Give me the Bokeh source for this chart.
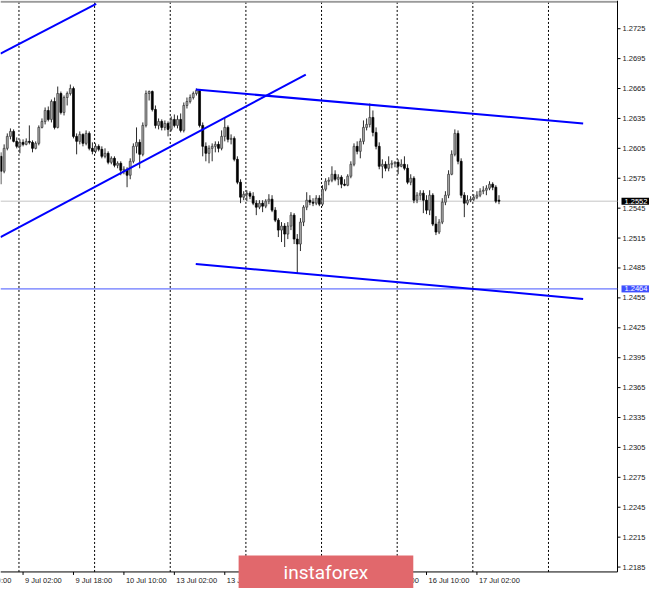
from bokeh.plotting import figure
from bokeh.models import Range1d, Label, ColumnDataSource
from bokeh.embed import file_html
from bokeh.resources import INLINE
from bokeh.core.properties import value

# ---------------- data (GBPUSD H1, bar 0 = 8 Jul 19:00) ----------------
opens = [1.2597, 1.2582, 1.2605, 1.2617, 1.2622, 1.2612, 1.2607, 1.2611, 1.2609, 1.2612,
         1.2611, 1.2605, 1.2610, 1.2626, 1.2632, 1.2643, 1.2634, 1.2652, 1.2626, 1.2660,
         1.2641, 1.2656, 1.2660, 1.2665, 1.2617, 1.2612, 1.2619, 1.2610, 1.2620, 1.2605,
         1.2602, 1.2607, 1.2604, 1.2597, 1.2600, 1.2591, 1.2595, 1.2588, 1.2590, 1.2583,
         1.2584, 1.2578, 1.2592, 1.2607, 1.2611, 1.2599, 1.2628, 1.2660, 1.2662, 1.2644,
         1.2628, 1.2632, 1.2626, 1.2630, 1.2624, 1.2634, 1.2628, 1.2634, 1.2623, 1.2648,
         1.2652, 1.2656, 1.2660, 1.2663, 1.2628, 1.2607, 1.2600, 1.2605, 1.2607, 1.2609,
         1.2605, 1.2617, 1.2626, 1.2614, 1.2615, 1.2594, 1.2571, 1.2556, 1.2559, 1.2560,
         1.2557, 1.2550, 1.2546, 1.2550, 1.2547, 1.2552, 1.2554, 1.2543, 1.2533, 1.2523,
         1.2527, 1.2519, 1.2527, 1.2538, 1.2514, 1.2509, 1.2531, 1.2546, 1.2553, 1.2551,
         1.2550, 1.2555, 1.2549, 1.2564, 1.2572, 1.2573, 1.2579, 1.2574, 1.2576, 1.2569,
         1.2568, 1.2577, 1.2589, 1.2607, 1.2602, 1.2612, 1.2626, 1.2629, 1.2636, 1.2621,
         1.2607, 1.2587, 1.2589, 1.2585, 1.2589, 1.2590, 1.2591, 1.2587, 1.2589, 1.2585,
         1.2571, 1.2575, 1.2553, 1.2558, 1.2560, 1.2553, 1.2543, 1.2558, 1.2529, 1.2521,
         1.2531, 1.2551, 1.2558, 1.2579, 1.2599, 1.2620, 1.2592, 1.2558, 1.2550, 1.2553,
         1.2554, 1.2556, 1.2558, 1.2562, 1.2563, 1.2565, 1.2569, 1.2566, 1.2553]
highs = [1.2601, 1.2609, 1.2620, 1.2625, 1.2624, 1.2616, 1.2614, 1.2614, 1.2615, 1.2628,
         1.2613, 1.2612, 1.2628, 1.2635, 1.2646, 1.2647, 1.2654, 1.2656, 1.2667, 1.2662,
         1.2658, 1.2662, 1.2669, 1.2667, 1.2620, 1.2622, 1.2620, 1.2623, 1.2622, 1.2611,
         1.2610, 1.2609, 1.2607, 1.2605, 1.2602, 1.2597, 1.2597, 1.2592, 1.2592, 1.2587,
         1.2586, 1.2595, 1.2610, 1.2626, 1.2614, 1.2631, 1.2663, 1.2663, 1.2663, 1.2648,
         1.2635, 1.2634, 1.2633, 1.2632, 1.2637, 1.2639, 1.2638, 1.2640, 1.2651, 1.2656,
         1.2659, 1.2662, 1.2665, 1.2664, 1.2631, 1.2611, 1.2608, 1.2610, 1.2612, 1.2612,
         1.2623, 1.2636, 1.2628, 1.2619, 1.2617, 1.2597, 1.2574, 1.2562, 1.2563, 1.2562,
         1.2561, 1.2553, 1.2553, 1.2553, 1.2554, 1.2559, 1.2558, 1.2546, 1.2535, 1.2531,
         1.2530, 1.2531, 1.2541, 1.2540, 1.2519, 1.2535, 1.2548, 1.2561, 1.2558, 1.2555,
         1.2558, 1.2558, 1.2568, 1.2575, 1.2576, 1.2587, 1.2583, 1.2579, 1.2578, 1.2574,
         1.2579, 1.2592, 1.2610, 1.2612, 1.2615, 1.2633, 1.2635, 1.2650, 1.2643, 1.2626,
         1.2611, 1.2594, 1.2592, 1.2597, 1.2593, 1.2592, 1.2594, 1.2594, 1.2597, 1.2589,
         1.2579, 1.2577, 1.2561, 1.2563, 1.2563, 1.2558, 1.2563, 1.2560, 1.2537, 1.2534,
         1.2555, 1.2562, 1.2583, 1.2603, 1.2624, 1.2623, 1.2595, 1.2561, 1.2558, 1.2557,
         1.2559, 1.2562, 1.2565, 1.2567, 1.2568, 1.2572, 1.2571, 1.2568, 1.2558]
lows = [1.2569, 1.2580, 1.2603, 1.2614, 1.2611, 1.2605, 1.2600, 1.2607, 1.2608, 1.2609,
        1.2601, 1.2604, 1.2608, 1.2625, 1.2629, 1.2632, 1.2631, 1.2624, 1.2625, 1.2639,
        1.2638, 1.2648, 1.2658, 1.2615, 1.2599, 1.2609, 1.2607, 1.2608, 1.2603, 1.2599,
        1.2600, 1.2602, 1.2595, 1.2595, 1.2589, 1.2589, 1.2586, 1.2585, 1.2578, 1.2579,
        1.2566, 1.2574, 1.2590, 1.2600, 1.2585, 1.2597, 1.2626, 1.2653, 1.2642, 1.2625,
        1.2624, 1.2623, 1.2623, 1.2617, 1.2622, 1.2626, 1.2625, 1.2621, 1.2621, 1.2645,
        1.2650, 1.2654, 1.2658, 1.2626, 1.2597, 1.2592, 1.2590, 1.2592, 1.2601, 1.2601,
        1.2603, 1.2612, 1.2611, 1.2609, 1.2592, 1.2569, 1.2550, 1.2553, 1.2552, 1.2554,
        1.2548, 1.2538, 1.2544, 1.2541, 1.2545, 1.2549, 1.2541, 1.2531, 1.2516, 1.2511,
        1.2506, 1.2514, 1.2523, 1.2509, 1.2479, 1.2502, 1.2527, 1.2543, 1.2548, 1.2547,
        1.2548, 1.2547, 1.2547, 1.2562, 1.2568, 1.2571, 1.2572, 1.2568, 1.2565, 1.2567,
        1.2567, 1.2575, 1.2587, 1.2599, 1.2595, 1.2609, 1.2623, 1.2626, 1.2617, 1.2604,
        1.2584, 1.2575, 1.2582, 1.2582, 1.2585, 1.2586, 1.2579, 1.2586, 1.2583, 1.2569,
        1.2568, 1.2550, 1.2550, 1.2553, 1.2540, 1.2539, 1.2538, 1.2527, 1.2518, 1.2519,
        1.2529, 1.2548, 1.2555, 1.2578, 1.2597, 1.2589, 1.2555, 1.2536, 1.2548, 1.2551,
        1.2552, 1.2554, 1.2556, 1.2559, 1.2558, 1.2563, 1.2563, 1.2550, 1.2549]
closes = [1.2582, 1.2605, 1.2617, 1.2622, 1.2612, 1.2607, 1.2611, 1.2609, 1.2612, 1.2611,
          1.2605, 1.2610, 1.2626, 1.2632, 1.2643, 1.2634, 1.2652, 1.2626, 1.2660, 1.2641,
          1.2656, 1.2660, 1.2665, 1.2617, 1.2612, 1.2619, 1.2610, 1.2620, 1.2605, 1.2602,
          1.2607, 1.2604, 1.2597, 1.2600, 1.2591, 1.2595, 1.2588, 1.2590, 1.2583, 1.2584,
          1.2578, 1.2592, 1.2607, 1.2611, 1.2599, 1.2628, 1.2660, 1.2662, 1.2644, 1.2628,
          1.2632, 1.2626, 1.2630, 1.2624, 1.2634, 1.2628, 1.2634, 1.2623, 1.2648, 1.2652,
          1.2656, 1.2660, 1.2663, 1.2628, 1.2607, 1.2600, 1.2605, 1.2607, 1.2609, 1.2605,
          1.2617, 1.2626, 1.2614, 1.2615, 1.2594, 1.2571, 1.2556, 1.2559, 1.2560, 1.2557,
          1.2550, 1.2546, 1.2550, 1.2547, 1.2552, 1.2554, 1.2543, 1.2533, 1.2523, 1.2527,
          1.2519, 1.2527, 1.2538, 1.2514, 1.2509, 1.2531, 1.2546, 1.2553, 1.2551, 1.2550,
          1.2555, 1.2549, 1.2564, 1.2572, 1.2573, 1.2579, 1.2574, 1.2576, 1.2569, 1.2568,
          1.2577, 1.2589, 1.2607, 1.2602, 1.2612, 1.2626, 1.2629, 1.2636, 1.2621, 1.2607,
          1.2587, 1.2589, 1.2585, 1.2589, 1.2590, 1.2591, 1.2587, 1.2589, 1.2585, 1.2571,
          1.2575, 1.2553, 1.2558, 1.2560, 1.2553, 1.2543, 1.2558, 1.2529, 1.2521, 1.2531,
          1.2551, 1.2558, 1.2579, 1.2599, 1.2620, 1.2592, 1.2558, 1.2550, 1.2553, 1.2554,
          1.2556, 1.2558, 1.2562, 1.2563, 1.2565, 1.2569, 1.2566, 1.2552, 1.2552]

time_label_bars = [-9, 7, 23, 39, 55, 71, 87, 103, 119, 135, 151]
time_labels = ["8 Jul 10:00", "9 Jul 02:00", "9 Jul 18:00", "10 Jul 10:00", "13 Jul 02:00",
               "13 Jul 18:00", "14 Jul 10:00", "15 Jul 02:00", "15 Jul 18:00",
               "16 Jul 10:00", "17 Jul 02:00"]
grid_bars = [5.7, 29.7, 53.7, 77.7, 101.7, 125.7, 149.7, 173.7]
price_ticks = [1.2185, 1.2215, 1.2245, 1.2275, 1.2305, 1.2335, 1.2365, 1.2395, 1.2425,
               1.2455, 1.2485, 1.2515, 1.2545, 1.2575, 1.2605, 1.2635, 1.2665, 1.2695, 1.2725]

# trend lines (bar index, price)
trend_x0 = [-0.15, -0.15, 61.8, 61.8]
trend_y0 = [1.2700, 1.2516, 1.2664, 1.2489]
trend_x1 = [30.2, 96.7, 184.7, 184.7]
trend_y1 = [1.2750, 1.2679, 1.2630, 1.2454]

last_price = 1.2552
level_price = 1.2464

# ---------------- layout (the frame covers the whole canvas, MT4 style panel inside) ----------------
W, H = 649, 588
X0, X1 = -0.155, 205.75          # bar units across the canvas
Y0, Y1 = 1.21635, 1.27533        # price units across the canvas
XB = 195.6                        # right border of the chart area (bars)
YB = 1.21801                      # bottom border of the chart area (price)
BPX = (X1 - X0) / W               # bars per pixel
PPX = (Y1 - Y0) / H               # price per pixel
FONT = "Liberation Sans"
FS = "7.5px"
TXT = "#1a1a1a"

p = figure(width=W, height=H, x_range=Range1d(X0, X1), y_range=Range1d(Y0, Y1),
           output_backend="svg", toolbar_location=None,
           x_axis_location=None, y_axis_location=None,
           min_border=0, min_border_left=0, min_border_right=0,
           min_border_top=0, min_border_bottom=0,
           background_fill_color="white", border_fill_color="white",
           outline_line_color=None)
p.xgrid.visible = False
p.ygrid.visible = False

# vertical dotted grid (inside the chart area only)
p.segment(x0=grid_bars, y0=[YB] * len(grid_bars), x1=grid_bars, y1=[Y1] * len(grid_bars),
          line_color="black", line_width=1, line_dash="2 2")

# top gray edge, right and bottom borders
p.segment(x0=[X0], y0=[Y1 - 1.2 * PPX], x1=[XB], y1=[Y1 - 1.2 * PPX],
          line_color="#9a9a9a", line_width=2)
p.segment(x0=[XB, X0], y0=[YB, YB], x1=[XB, XB], y1=[Y1, YB],
          line_color="black", line_width=1)

# price lines
p.segment(x0=[X0], y0=[last_price], x1=[XB], y1=[last_price], line_color="#c4c4c4", line_width=1)
p.segment(x0=[X0], y0=[level_price], x1=[XB], y1=[level_price], line_color="#4455ff", line_width=1)

# candles
bars = list(range(len(closes)))
up = [i for i in bars if closes[i] >= opens[i]]
dn = [i for i in bars if closes[i] < opens[i]]
src_up = ColumnDataSource(dict(x=up, top=[closes[i] for i in up], bottom=[opens[i] for i in up]))
src_dn = ColumnDataSource(dict(x=dn, top=[opens[i] for i in dn], bottom=[closes[i] for i in dn]))

p.segment(x0=bars, y0=highs, x1=bars, y1=lows, line_color="#2a2a2a", line_width=1)
p.vbar(x="x", width=0.62, top="top", bottom="bottom", source=src_up,
       fill_color="#a8a8a8", line_color="#3a3a3a", line_width=0.7)
p.vbar(x="x", width=0.62, top="top", bottom="bottom", source=src_dn,
       fill_color="black", line_color="black", line_width=0.7)

# trend lines
p.segment(x0=trend_x0, y0=trend_y0, x1=trend_x1, y1=trend_y1, line_color="#0000ff", line_width=2)

# price scale: tick marks + labels
n = len(price_ticks)
p.segment(x0=[XB] * n, y0=price_ticks, x1=[XB + 3 * BPX] * n, y1=price_ticks,
          line_color="black", line_width=1)
p.text(x=[XB + 5 * BPX] * n, y=price_ticks, text=["%.4f" % t for t in price_ticks],
       text_align="left", text_baseline="middle", text_font=value(FONT),
       text_font_size=FS, text_color=TXT)

# time scale: tick marks + labels (left aligned at their tick)
m = len(time_label_bars)
p.segment(x0=time_label_bars, y0=[YB] * m, x1=time_label_bars, y1=[YB - 3 * PPX] * m,
          line_color="black", line_width=1)
p.text(x=[b + 2 * BPX for b in time_label_bars], y=[YB - 4 * PPX] * m, text=time_labels,
       text_align="left", text_baseline="top", text_font=value(FONT),
       text_font_size=FS, text_color=TXT)

# price boxes on the scale
p.add_layout(Label(x=XB + 4 * BPX, y=last_price, text="%.4f" % last_price,
                   text_align="left", text_baseline="middle", text_font=FONT,
                   text_font_size=FS, text_color="white",
                   background_fill_color="black", padding=(3, 1)))
p.add_layout(Label(x=XB + 4 * BPX, y=level_price, text="%.4f" % level_price,
                   text_align="left", text_baseline="middle", text_font=FONT,
                   text_font_size=FS, text_color="white",
                   background_fill_color="#3f50ff", padding=(3, 1)))

# watermark
p.add_layout(Label(x=103.1, y=YB - 1 * PPX, text="instaforex", text_align="center",
                   text_baseline="middle", text_font="Roboto", text_font_size="19px",
                   text_color="white", background_fill_color="#e1686c", padding=(45, 6)))

open("out.html", "w").write(file_html(p, INLINE))
